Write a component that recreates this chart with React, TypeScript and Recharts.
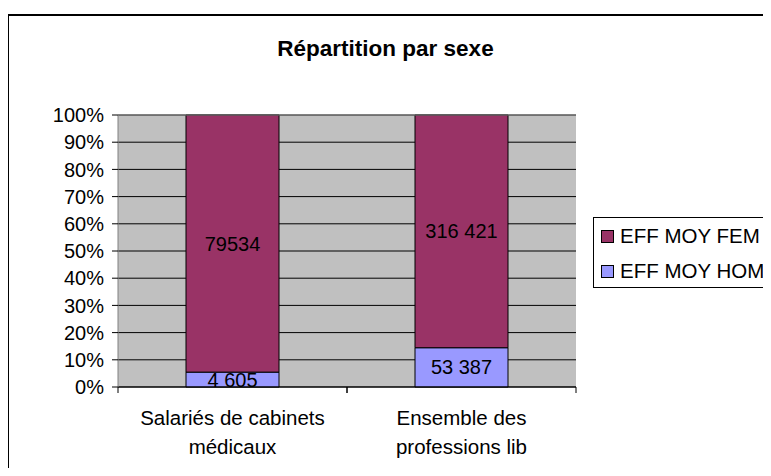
import React from 'react';
import { BarChart, Bar, XAxis, YAxis, CartesianGrid, LabelList, ReferenceLine } from 'recharts';

const categories = ['Salariés de cabinets médicaux', 'Ensemble des professions lib'];
const categoryLines = [['Salariés de cabinets', 'médicaux'], ['Ensemble des', 'professions lib']];
const femValues = [79534, 316421];
const homValues = [4605, 53387];
const femLabels = ['79534', '316 421'];
const homLabels = ['4 605', '53 387'];
const yTicks = [0, 0.1, 0.2, 0.3, 0.4, 0.5, 0.6, 0.7, 0.8, 0.9, 1];
const seriesNames = { fem: 'EFF MOY FEM', hom: 'EFF MOY HOM' };

const FONT = '"Liberation Sans", Arial, sans-serif';
const FEM_COLOR = '#993366';
const HOM_COLOR = '#9999FF';

const data = categories.map((c, i) => ({
  name: c,
  hom: homValues[i],
  fem: femValues[i],
}));

// category label on two lines, plus the excel-style tick marks between categories
const CategoryTick = (props: any) => {
  const { x, y, index, payload } = props;
  const lines = categoryLines[index] || [];
  const half = payload && payload.offset ? payload.offset : 0;
  return (
    <g>
      {half > 0 && (
        <>
          <line x1={x - half} x2={x - half} y1={y} y2={y + 6} stroke="#000" />
          <line x1={x + half} x2={x + half} y1={y} y2={y + 6} stroke="#000" />
        </>
      )}
      <text x={x} y={y} textAnchor="middle" fontFamily={FONT} fontSize={20.5} fill="#000">
        {lines.map((l, i) => (
          <tspan key={i} x={x} dy={i === 0 ? 38 : 29}>{l}</tspan>
        ))}
      </text>
    </g>
  );
};

const makeLabel = (labels: string[]) => (props: any) => {
  const { x, y, width, height, index } = props;
  return (
    <text
      x={x + width / 2}
      y={y + height / 2}
      textAnchor="middle"
      dominantBaseline="central"
      fontFamily={FONT}
      fontSize={20}
      fill="#000"
    >
      {labels[index]}
    </text>
  );
};

const LegendBox = () => (
  <div
    style={{
      position: 'absolute', left: 593, top: 217, width: 200, height: 69,
      border: '1px solid #000', background: '#fff', fontFamily: FONT, fontSize: 20.5,
    }}
  >
    {[
      { name: seriesNames.fem, color: FEM_COLOR },
      { name: seriesNames.hom, color: HOM_COLOR },
    ].map((s, i) => (
      <div key={i} style={{ position: 'absolute', left: 7, top: 8 + i * 35, height: 20, display: 'flex', alignItems: 'center' }}>
        <span style={{ width: 11, height: 11, border: '1px solid #000', background: s.color, display: 'inline-block', marginRight: 6 }} />
        <span style={{ lineHeight: '20px', whiteSpace: 'nowrap' }}>{s.name}</span>
      </div>
    ))}
  </div>
);

export default function App() {
  return (
    <div style={{ position: 'relative', width: 771, height: 476, margin: -8, overflow: 'hidden', background: '#fff' }}>
      <div
        style={{
          position: 'absolute', left: 7, top: 14, width: 800, height: 500,
          borderTop: '2px solid #000', borderLeft: '2px solid #000',
        }}
      />
      <div
        style={{
          position: 'absolute', left: 0, top: 38, width: 771, textAlign: 'center',
          fontFamily: FONT, fontWeight: 'bold', fontSize: 22.5, lineHeight: '22px',
        }}
      >
        Répartition par sexe
      </div>
      <div style={{ position: 'absolute', left: 0, top: 0 }}>
        <BarChart
          width={771}
          height={476}
          data={data}
          stackOffset="expand"
          margin={{ top: 115, right: 195, bottom: 0, left: 0 }}
        >
          <CartesianGrid vertical={false} stroke="#000" fill="#C0C0C0" fillOpacity={1} />
          <XAxis
            xAxisId="b"
            type="number"
            domain={[0, 2]}
            ticks={[0, 1, 2]}
            allowDataOverflow
            height={0}
            axisLine={false}
            tickLine={false}
            tick={false}
          />
          <XAxis
            dataKey="name"
            height={89}
            axisLine={{ stroke: '#000' }}
            tickLine={false}
            tickSize={0}
            tickMargin={0}
            tick={<CategoryTick />}
            interval={0}
          />
          <YAxis
            width={118}
            domain={[0, 1]}
            ticks={yTicks}
            interval={0}
            tickFormatter={(v: number) => `${Math.round(v * 100)}%`}
            tick={{ fontFamily: FONT, fontSize: 20, fill: '#000' }}
            tickSize={6}
            tickMargin={8}
            axisLine={{ stroke: '#808080' }}
            tickLine={{ stroke: '#000' }}
          />
          <ReferenceLine y={1} stroke="#808080" />
          <ReferenceLine xAxisId="b" x={2} stroke="#808080" />
          <Bar dataKey="hom" stackId="a" fill={HOM_COLOR} stroke="#000" strokeWidth={1} barSize={93} isAnimationActive={false}>
            <LabelList dataKey="hom" content={makeLabel(homLabels)} />
          </Bar>
          <Bar dataKey="fem" stackId="a" fill={FEM_COLOR} stroke="#000" strokeWidth={1} barSize={93} isAnimationActive={false}>
            <LabelList dataKey="fem" content={makeLabel(femLabels)} />
          </Bar>
        </BarChart>
      </div>
      <LegendBox />
    </div>
  );
}
